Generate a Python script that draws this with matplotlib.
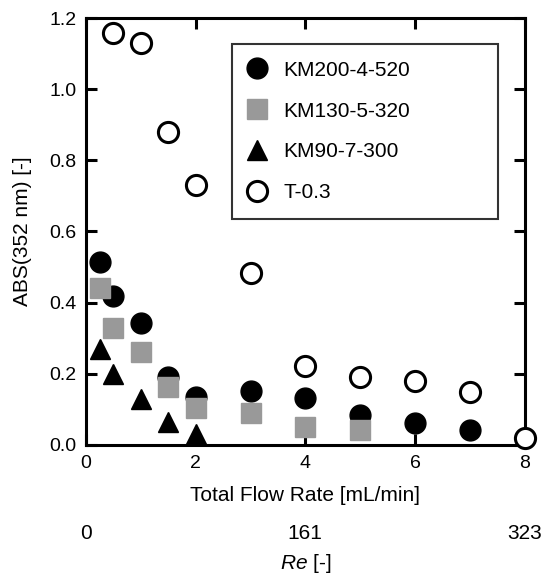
import numpy as np
import matplotlib.pyplot as plt

plt.rcParams['font.family'] = ['Liberation Sans', 'DejaVu Sans']
plt.rcParams['mathtext.fontset'] = 'custom'
plt.rcParams['mathtext.it'] = 'Liberation Sans:italic'
plt.rcParams['mathtext.rm'] = 'Liberation Sans'

# data
x_km200 = [0.25, 0.5, 1.0, 1.5, 2.0, 3.0, 4.0, 5.0, 6.0, 7.0]
y_km200 = [0.515, 0.42, 0.343, 0.19, 0.135, 0.152, 0.132, 0.085, 0.062, 0.042]

x_km130 = [0.25, 0.5, 1.0, 1.5, 2.0, 3.0, 4.0, 5.0]
y_km130 = [0.44, 0.33, 0.26, 0.163, 0.104, 0.09, 0.05, 0.042]

x_km90 = [0.25, 0.5, 1.0, 1.5, 2.0]
y_km90 = [0.27, 0.2, 0.13, 0.065, 0.03]

x_t03 = [0.5, 1.0, 1.5, 2.0, 3.0, 4.0, 5.0, 6.0, 7.0, 8.0]
y_t03 = [1.157, 1.13, 0.88, 0.73, 0.483, 0.222, 0.19, 0.18, 0.15, 0.02]

re_max = 323.0
re_ticks = [0, 161, 323]

fig = plt.figure(figsize=(5.41, 5.77), dpi=100)
ax = fig.add_axes([0.159, 0.2288, 0.811, 0.740])

ax.plot(x_km200, y_km200, 'o', color='black', ms=15, ls='none',
        label='KM200-4-520', zorder=3)
ax.plot(x_km130, y_km130, 's', color='#999999', ms=15, ls='none',
        label='KM130-5-320', zorder=4)
ax.plot(x_km90, y_km90, '^', color='black', ms=15, ls='none',
        label='KM90-7-300', zorder=5)
ax.plot(x_t03, y_t03, 'o', mfc='white', mec='black', mew=2.2, ms=14.5,
        ls='none', label='T-0.3', zorder=6, clip_on=False)

ax.set_xlim(0, 8)
ax.set_ylim(0, 1.2)
ax.set_xticks([0, 2, 4, 6, 8])
ax.set_yticks(np.arange(0, 1.21, 0.2))
ax.yaxis.set_major_formatter(plt.FormatStrFormatter('%.1f'))
ax.tick_params(direction='in', length=8, width=2.2, labelsize=14,
               top=True, right=True, pad=7)
for s in ax.spines.values():
    s.set_linewidth(2.2)
ax.set_xlabel('Total Flow Rate [mL/min]', fontsize=15, labelpad=10)
ax.set_ylabel('ABS(352 nm) [-]', fontsize=15, labelpad=12)

leg = ax.legend(loc='upper left', bbox_to_anchor=(0.333, 0.527, 0.605, 0.412),
                mode='expand', borderaxespad=0, fontsize=15, frameon=True,
                fancybox=False, edgecolor='black', handlelength=0.8,
                handletextpad=0.85, labelspacing=1.05, borderpad=0.8,
                numpoints=1)
leg.get_frame().set_linewidth(1.5)

sec = ax.secondary_xaxis(-0.186, functions=(lambda f: f * re_max / 8.0,
                                             lambda r: r * 8.0 / re_max))
sec.set_xticks(re_ticks)
sec.tick_params(length=0, labelsize=15, pad=0)
sec.spines['bottom'].set_visible(False)
sec.set_xlabel(r'$\it{Re}$ [-]', fontsize=15, labelpad=6)

fig.savefig('out.png', dpi=100)
